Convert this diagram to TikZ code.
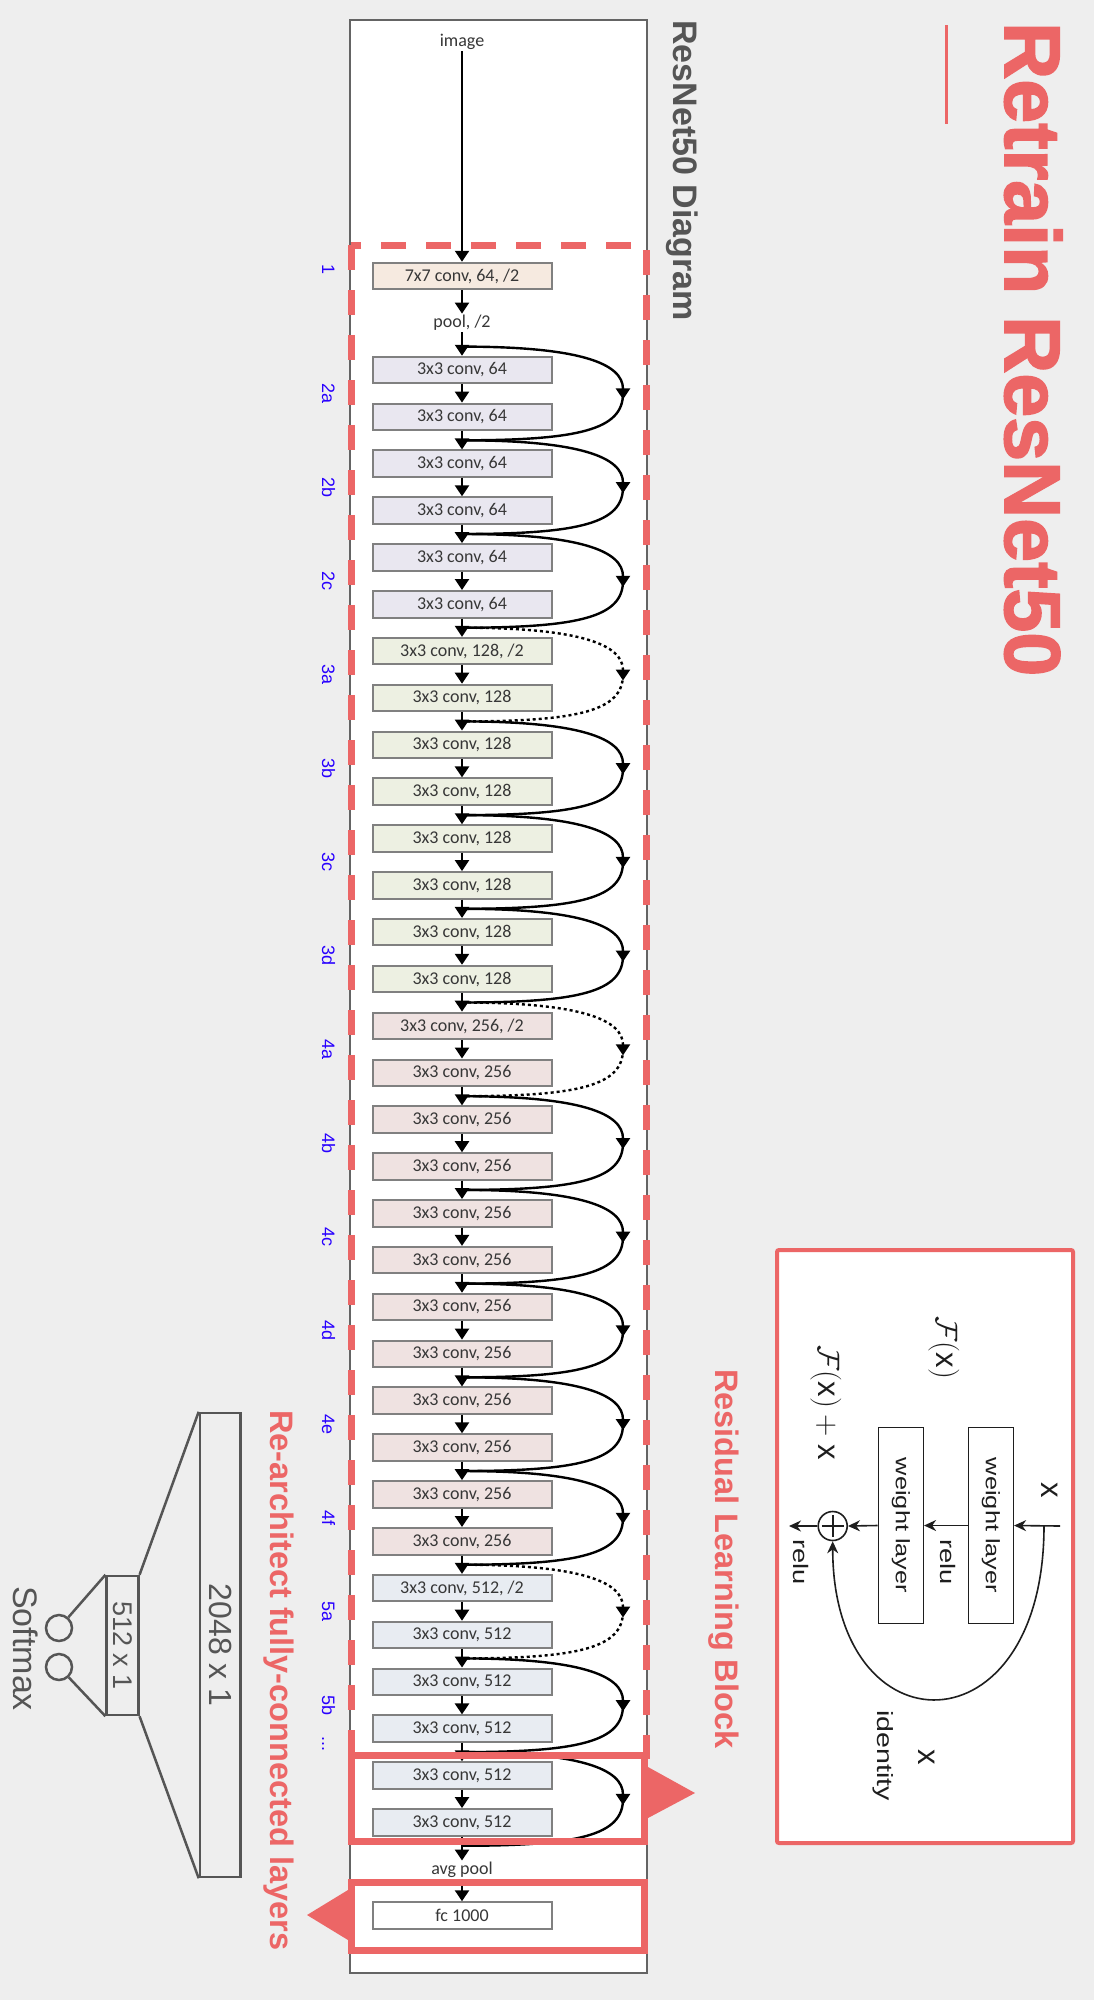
\RequirePackage{fix-cm}
\documentclass[tikz,border=0pt]{standalone}
\usepackage{fontspec}
\usepackage{graphicx}
\usetikzlibrary{arrows.meta}
\setmainfont{Liberation Sans}
\newfontfamily\calfont{Carlito}
\newfontfamily\rbfont[FakeStretch=1.3]{Liberation Sans}
\newfontfamily\heavyfont[FakeBold=2]{Liberation Sans Bold}
\newfontfamily\boldsans{Liberation Sans Bold}

\definecolor{bg}{RGB}{238,238,238}
\definecolor{rred}{RGB}{236,102,102}
\definecolor{lblue}{RGB}{40,0,255}
\definecolor{dgray}{RGB}{85,85,85}
\definecolor{panelgray}{RGB}{100,100,100}
\definecolor{boxgray}{RGB}{128,128,128}
\definecolor{txtgray}{RGB}{55,55,55}
\definecolor{rbtext}{RGB}{30,30,30}
\definecolor{c1}{RGB}{246,234,224}
\definecolor{c64}{RGB}{233,231,240}
\definecolor{c128}{RGB}{237,240,226}
\definecolor{c256}{RGB}{239,226,225}
\definecolor{c512}{RGB}{232,236,242}

\tikzset{
  conv/.style={draw=boxgray, line width=2, minimum width=179, minimum height=26.5, inner sep=0,
    font=\calfont\fontsize{18}{20}\selectfont, text=txtgray},
  plainlbl/.style={inner sep=1.5, font=\calfont\fontsize{18}{20}\selectfont, text=txtgray},
  arr/.style={line width=2.4, -{Triangle[width=14pt,length=11pt]}},
  skipsolid/.style={line width=2.4},
  skipdot/.style={line width=2.4, dash pattern=on 3pt off 3pt},
  skiptip/.style={-{Triangle[width=14pt,length=11pt]}},
  blbl/.style={rotate=-90, anchor=base, text=lblue, font=\fontsize{18}{20}\selectfont, inner sep=0},
  rtxt/.style={rotate=-90, inner sep=0, text=rbtext, font=\rbfont\fontsize{21}{22}\selectfont},
  mtxt/.style={rotate=-90, inner sep=0, text=rbtext, font=\fontsize{31}{32}\selectfont},
  wl/.style={draw=rbtext, line width=1.6, fill=white, minimum width=45, minimum height=196, inner sep=0,
    font=\rbfont\fontsize{19.5}{20}\selectfont, text=rbtext},
  rarr/.style={line width=1.6, draw=rbtext, -{Stealth[length=12pt,width=11pt]}},
  gline/.style={draw=dgray, line width=2.5},
  redbox/.style={draw=rred, line width=6.5},
}

\begin{document}
\begin{tikzpicture}[x=1pt,y=-1pt]
\fill[bg] (0,0) rectangle (1094,2000);
\useasboundingbox (0,0) rectangle (1094,2000);

% title
\node[rotate=-90, anchor=base west, text=rred, font=\heavyfont\fontsize{79}{80}\selectfont, inner sep=0] (title) at (1005,22) {Retrain ResNet50};
\draw[rred, line width=3] (946,25) -- (946,124);

% main panel
\node[draw=panelgray, fill=white, line width=2.5, minimum width=297, minimum height=1953, inner sep=0] (panel) at (498.5,996.5) {};
\node[rotate=-90, anchor=base west, text=dgray, font=\boldsans\fontsize{34}{36}\selectfont, inner sep=0] (sub) at (673,20) {ResNet50 Diagram};

% dashed region
\draw[rred, line width=7, dash pattern=on 25pt off 20pt] (351,245) -- (351,1755) -- (646,1755) -- (646,245) -- cycle;

% top of network
\node[plainlbl] (img) at (462,42) {image};
\node[conv, fill=c1] (c7) at (462,276) {7x7 conv, 64, /2};
\node[plainlbl] (pool) at (462,323) {pool, /2};

% conv boxes
\foreach \k in {0,...,31}{
  \ifnum\k<6 \def\cc{c64}\def\nf{64}\else
   \ifnum\k<14 \def\cc{c128}\def\nf{128}\else
    \ifnum\k<26 \def\cc{c256}\def\nf{256}\else
     \def\cc{c512}\def\nf{512}\fi\fi\fi
  \def\sfx{}
  \ifnum\k=6 \def\sfx{, /2}\fi
  \ifnum\k=14 \def\sfx{, /2}\fi
  \ifnum\k=26 \def\sfx{, /2}\fi
  \node[conv, fill=\cc] (b\k) at (462,{370+46.85*\k}) {3x3 conv, \nf\sfx};
}
\node[plainlbl] (avg) at (462,1870) {avg pool};
\node[conv, fill=white] (fc) at (462,1915.5) {fc 1000};

% main arrows
\draw[arr] (img.south) -- (c7.north);
\draw[arr] (c7.south) -- (pool.north);
\draw[arr] (pool.south) -- (b0.north);
\foreach \k in {0,...,30}{
  \pgfmathtruncatemacro\n{\k+1}
  \draw[arr] (b\k.south) -- (b\n.north);
}
\draw[arr] (b31.south) -- (avg.north);
\draw[arr] (avg.south) -- (fc.north);

% junctions and skip connections
\foreach \b in {0,...,15}{
  \coordinate (j\b) at (462,{370+46.85*(2*\b)-23.4});
  \coordinate (m\b) at (623,{370+46.85*(2*\b+0.5)});
  \coordinate (mt\b) at (623,{370+46.85*(2*\b+0.5)+6});
}
\coordinate (j16) at (462,{370+46.85*31+23.4});
\foreach \b in {0,1,2,4,5,6,8,9,10,11,12,14,15}{
  \pgfmathtruncatemacro\n{\b+1}
  \draw[skipsolid, skiptip] (j\b) .. controls +(118,0) and +(0,-36) .. (mt\b);
  \draw[skipsolid] (m\b) .. controls +(0,36) and +(118,0) .. (j\n);
}
\foreach \b in {3,7,13}{
  \pgfmathtruncatemacro\n{\b+1}
  \draw[skipdot, skiptip] (j\b) .. controls +(118,0) and +(0,-36) .. (mt\b);
  \draw[skipdot] (m\b) .. controls +(0,36) and +(118,0) .. (j\n);
}

% stage labels
\node[blbl] (L1) at (322,270) {1};
\foreach \b/\t in {0/2a,1/2b,2/2c,3/3a,4/3b,5/3c,6/3d,7/4a,8/4b,9/4c,10/4d,11/4e,12/4f,13/5a,14/5b}{
  \node[blbl] (L\t) at (322,{370+46.85*(2*\b+0.5)}) {\t};
}
\node[blbl] (Ldots) at (322,1744) {...};

% solid red boxes and pointers
\draw[redbox] (351.3,1755.3) rectangle (644.7,1841.7);
\draw[redbox] (351.3,1882.6) rectangle (644.7,1950.7);
\fill[rred] (648,1767) -- (695,1793) -- (648,1818) -- cycle;
\fill[rred] (348,1890) -- (307,1915) -- (348,1940) -- cycle;

% residual learning block
\node[rotate=-90, anchor=base west, text=rred, font=\boldsans\fontsize{32.5}{34}\selectfont, inner sep=0] (rlb) at (715,1369) {Residual Learning Block};
\node[draw=rred, fill=white, line width=4, rounded corners=2, minimum width=296, minimum height=593, inner sep=0] (rbframe) at (925,1546.5) {};
\node[wl] (w1) at (990.8,1525.5) {\rotatebox{-90}{weight layer}};
\node[wl] (w2) at (900.8,1525.5) {\rotatebox{-90}{weight layer}};
\node[circle, draw=rbtext, line width=1.6, minimum size=29, inner sep=0] (plus) at (832.7,1526) {};
\draw[rbtext, line width=1.6, shorten <=4.5pt, shorten >=4.5pt] (plus.north) -- (plus.south);
\draw[rbtext, line width=1.6, shorten <=4.5pt, shorten >=4.5pt] (plus.west) -- (plus.east);
\coordinate (xin) at (1060,1526);
\coordinate (idstart) at (1044,1526);
\coordinate (xout) at (789,1526);
\draw[rarr] (xin) -- (w1.east);
\draw[rarr] (w1.west) -- (w2.east);
\draw[rarr] (w2.west) -- (plus.east);
\draw[rarr] (plus.west) -- (xout);
\draw[rarr] (idstart) .. controls (1044,1754) and (832.7,1754) .. (plus.south);
\node[mtxt] (xtop) at (1050,1490) {$\mathrm{x}$};
\node[rtxt, anchor=base] (relu1) at (940,1562) {relu};
\node[rtxt, anchor=base] (relu2) at (793,1562) {relu};
\node[mtxt, anchor=base] (fx) at (936,1348) {$\mathcal{F}(\mathrm{x})$};
\node[mtxt, anchor=base west] (fxx) at (818,1345) {$\mathcal{F}(\mathrm{x})+\mathrm{x}$};
\node[rtxt, anchor=base west, font=\rbfont\fontsize{22}{23}\selectfont] (ident) at (877,1710) {identity};
\node[mtxt, anchor=base] (xid) at (918,1757) {$\mathrm{x}$};

% re-architected FC layers
\node[rotate=-90, anchor=base west, text=rred, font=\boldsans\fontsize{32.5}{34}\selectfont, inner sep=0] (rfc) at (270,1410) {Re-architect fully-connected layers};
\node[gline, minimum width=40.7, minimum height=464, inner sep=0, text=dgray, font=\fontsize{32}{34}\selectfont] (f2048) at (220.3,1645) {\rotatebox{-90}{2048 x 1}};
\node[gline, minimum width=31.6, minimum height=139, inner sep=0, text=dgray, font=\fontsize{27}{28}\selectfont] (f512) at (122.5,1645.5) {\rotatebox{-90}{512 x 1}};
\draw[gline] (f2048.north west) -- (f512.north east);
\draw[gline] (f2048.south west) -- (f512.south east);
\node[circle, gline, minimum size=26, inner sep=0] (s1) at (59,1628) {};
\node[circle, gline, minimum size=26, inner sep=0] (s2) at (59,1667) {};
\draw[gline] (f512.north west) -- (s1);
\draw[gline] (f512.south west) -- (s2);
\node[rotate=-90, anchor=base west, text=dgray, font=\fontsize{34}{36}\selectfont, inner sep=0] (smx) at (13,1586) {Softmax};
\end{tikzpicture}
\end{document}
